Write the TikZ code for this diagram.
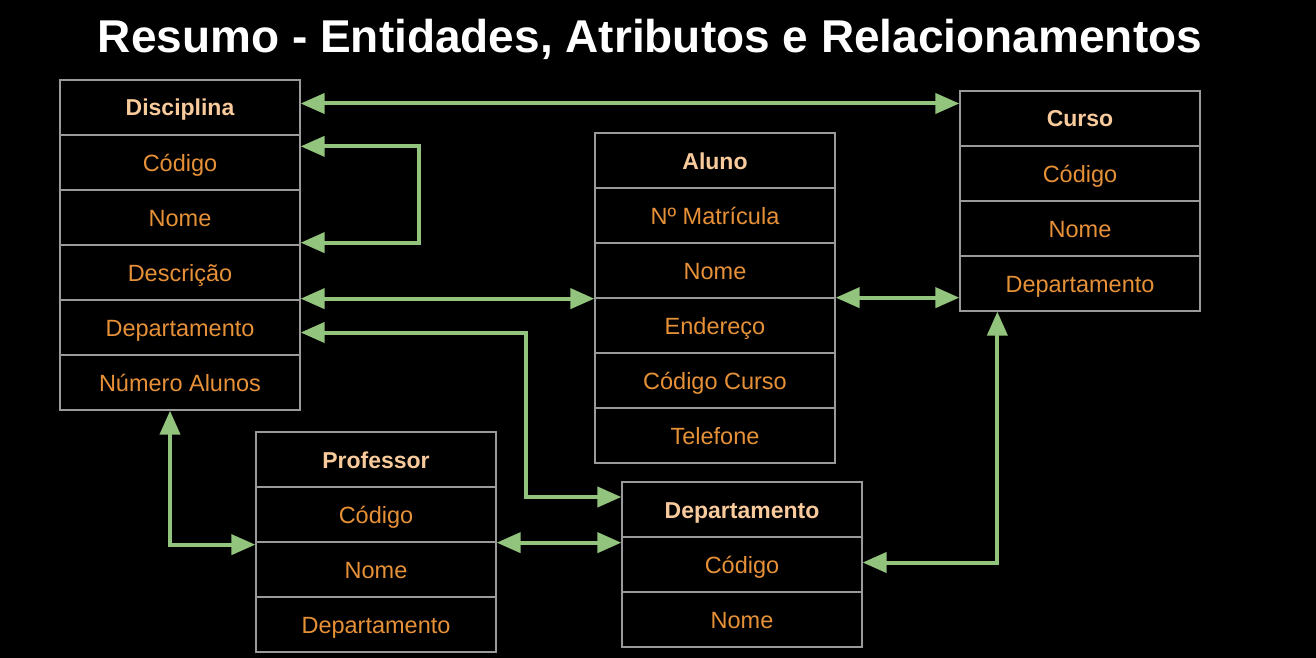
\documentclass[tikz,border=0pt]{standalone}
\usepackage{fontspec}
\setmainfont{Liberation Sans}
\usetikzlibrary{arrows.meta}
\definecolor{hdrc}{HTML}{F9CB9C}
\definecolor{attc}{HTML}{E69138}
\definecolor{linec}{HTML}{9A9A9A}
\definecolor{arrc}{HTML}{93C47D}
\tikzset{
  cell/.style={draw=linec, line width=1.3pt, minimum width=240pt, minimum height=55pt, inner sep=0pt, text height=17pt, text depth=0pt, font=\fontsize{23.5}{27}\selectfont},
  hdr/.style={cell, text=hdrc, font=\fontsize{23}{27}\selectfont\bfseries},
  att/.style={cell, text=attc},
  link/.style={draw=arrc, line width=4pt, {Triangle[length=24pt,width=20pt]}-{Triangle[length=24pt,width=20pt]}}
}
\begin{document}
\begin{tikzpicture}[x=1pt,y=1pt]
\useasboundingbox[fill=black] (0,0) rectangle (1316,-658);
\node[text=white, font=\fontsize{46}{52}\selectfont\bfseries] (title) at (650,-39) {Resumo - Entidades, Atributos e Relacionamentos};
% Disciplina
\node[hdr] (d0) at (180,-107.5) {Disciplina};
\node[att] (d1) at (180,-162.5) {Código};
\node[att] (d2) at (180,-217.5) {Nome};
\node[att] (d3) at (180,-272.5) {Descrição};
\node[att] (d4) at (180,-327.5) {Departamento};
\node[att] (d5) at (180,-382.5) {Número Alunos};
% Curso
\node[hdr] (c0) at (1080,-118.5) {Curso};
\node[att] (c1) at (1080,-173.5) {Código};
\node[att] (c2) at (1080,-228.5) {Nome};
\node[att] (c3) at (1080,-283.5) {Departamento};
% Aluno
\node[hdr] (a0) at (715,-160.5) {Aluno};
\node[att] (a1) at (715,-215.5) {Nº Matrícula};
\node[att] (a2) at (715,-270.5) {Nome};
\node[att] (a3) at (715,-325.5) {Endereço};
\node[att] (a4) at (715,-380.5) {Código Curso};
\node[att] (a5) at (715,-435.5) {Telefone};
% Professor
\node[hdr] (p0) at (376,-459.5) {Professor};
\node[att] (p1) at (376,-514.5) {Código};
\node[att] (p2) at (376,-569.5) {Nome};
\node[att] (p3) at (376,-624.5) {Departamento};
% Departamento
\node[hdr] (e0) at (742,-509.5) {Departamento};
\node[att] (e1) at (742,-564.5) {Código};
\node[att] (e2) at (742,-619.5) {Nome};
% connectors
\draw[link] ([yshift=4pt]d0.east) -- ([yshift=4pt]d0.east -| c0.west);
\draw[link] ([yshift=-12pt]d1.north east) -- ++(118,0) |- ([yshift=3pt]d2.south east);
\draw[link] ([yshift=2pt]d3.south east) -- ([yshift=2pt]d3.south east -| a2.west);
\coordinate (k4) at (526,-497);
\draw[link] ([yshift=-5pt]d4.east) -| (k4) -- (k4 -| e0.west);
\draw[link] ([xshift=-10pt]d5.south) |- ([yshift=-2pt]p1.south west);
\draw[link] (p1.south east) -- (p1.south east -| e1.west);
\draw[link] ([yshift=1pt]a2.south east) -- ([yshift=1pt]a2.south east -| c3.west);
\draw[link] ([xshift=38pt]c3.south west) |- ([yshift=2pt]e1.east);
\end{tikzpicture}
\end{document}
